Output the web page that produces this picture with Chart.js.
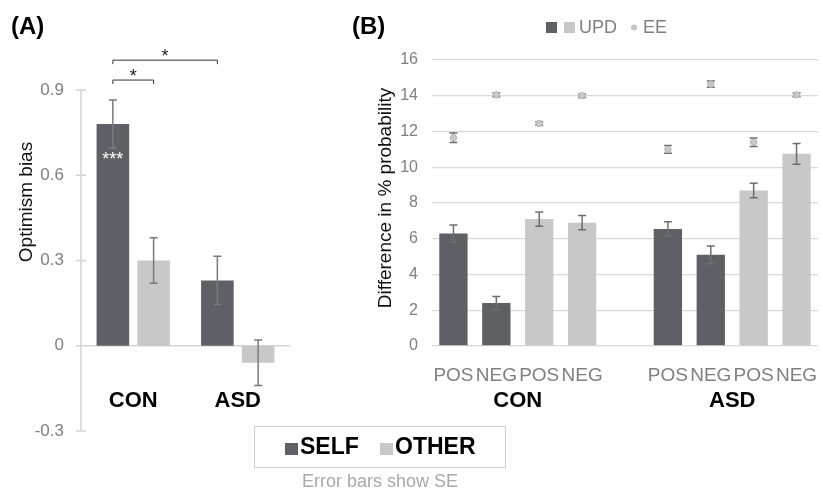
<!DOCTYPE html>
<html>
<head>
<meta charset="utf-8">
<script src="https://cdn.jsdelivr.net/npm/chart.js@4.4.1/dist/chart.umd.min.js"></script>
<style>
  body { margin: 0; background: #fff; }
  #wrap { position: relative; width: 823px; height: 492px; overflow: hidden; background: #fff; }
  canvas { position: absolute; top: 0; }
  #chartA { left: 0; }
  #chartB { left: 300px; }
</style>
</head>
<body>
<div id="wrap">
  <canvas id="chartA" width="520" height="492"></canvas>
  <canvas id="chartB" width="523" height="492"></canvas>
</div>
<script>
// ---- panel A data ----
var groupsA = ['CON', 'ASD'];
var selfBias = [0.78, 0.23];
var selfBiasSE = [0.085, 0.085];
var otherBias = [0.30, -0.06];
var otherBiasSE = [0.08, 0.08];

// ---- panel B data ----
var conditionsB = ['POS', 'NEG', 'POS', 'NEG', '', 'POS', 'NEG', 'POS', 'NEG'];
var targetB = ['SELF', 'SELF', 'OTHER', 'OTHER', null, 'SELF', 'SELF', 'OTHER', 'OTHER'];
var updValues = [6.3, 2.4, 7.1, 6.9, null, 6.55, 5.1, 8.7, 10.75];
var updSE = [0.47, 0.37, 0.4, 0.4, null, 0.4, 0.5, 0.4, 0.58];
var eeValues = [11.65, 14.05, 12.45, 14.0, null, 11.0, 14.65, 11.4, 14.05];
var eeSE = [0.27, 0.1, 0.1, 0.1, null, 0.22, 0.18, 0.24, 0.1];
var groupsB = ['CON', 'ASD'];

var DARK = '#5f6065';
var LIGHT = '#c8c8c8';
var FONT = "'Liberation Sans', Arial, sans-serif";

// error bars, drawn over bars or behind points
function drawErrors(chart, args) {
    var ds = chart.data.datasets[args.index];
    var y = chart.scales.y, ctx = chart.ctx;
    ctx.save();
    ctx.strokeStyle = ds.errorColor || '#777';
    ctx.lineWidth = 1.5;
    args.meta.data.forEach(function(el, i) {
        var v = ds.data[i], e = ds.errors[i];
        if (v == null || e == null) return;
        var x = el.x;
        var top = y.getPixelForValue(v + e), bot = y.getPixelForValue(v - e);
        ctx.beginPath();
        ctx.moveTo(x, top); ctx.lineTo(x, bot);
        ctx.moveTo(x - 4, top); ctx.lineTo(x + 4, top);
        ctx.moveTo(x - 4, bot); ctx.lineTo(x + 4, bot);
        ctx.stroke();
    });
    ctx.restore();
}

var errorBars = {
    id: 'errorBars',
    beforeDatasetDraw: function(chart, args) {
        var ds = chart.data.datasets[args.index];
        if (ds.errors && ds.errorsBehind) drawErrors(chart, args);
    },
    afterDatasetDraw: function(chart, args) {
        var ds = chart.data.datasets[args.index];
        if (ds.errors && !ds.errorsBehind) drawErrors(chart, args);
    }
};

function rotatedText(ctx, text, x, y, font, color) {
    ctx.save();
    ctx.translate(x, y);
    ctx.rotate(-Math.PI / 2);
    ctx.font = font;
    ctx.fillStyle = color;
    ctx.textAlign = 'center';
    ctx.textBaseline = 'middle';
    ctx.fillText(text, 0, 0);
    ctx.restore();
}

// ---- panel A extras: axis, brackets, labels, legend ----
var panelAExtras = {
    id: 'panelAExtras',
    beforeDatasetsDraw: function(chart) {
        var ctx = chart.ctx, y = chart.scales.y, area = chart.chartArea;
        ctx.save();
        ctx.strokeStyle = '#d4d4d4';
        ctx.lineWidth = 1.5;
        ctx.beginPath();
        ctx.moveTo(area.left, area.top);
        ctx.lineTo(area.left, area.bottom);
        y.ticks.forEach(function(t) {
            var py = y.getPixelForValue(t.value);
            ctx.moveTo(area.left - 5, py);
            ctx.lineTo(area.left + 5, py);
        });
        var zero = y.getPixelForValue(0);
        ctx.moveTo(area.left, zero);
        ctx.lineTo(area.right, zero);
        ctx.stroke();
        ctx.restore();
    },
    afterDraw: function(chart) {
        var ctx = chart.ctx, x = chart.scales.x, y = chart.scales.y;
        var selfBars = chart.getDatasetMeta(0).data;
        var otherBars = chart.getDatasetMeta(1).data;
        ctx.save();

        ctx.fillStyle = '#000';
        ctx.font = 'bold 24px ' + FONT;
        ctx.textAlign = 'left';
        ctx.textBaseline = 'middle';
        ctx.fillText('(A)', 11, 27);

        rotatedText(ctx, 'Optimism bias', 27, 202, '19px ' + FONT, '#111');

        // significance brackets
        function bracket(x1, x2, py) {
            ctx.beginPath();
            ctx.moveTo(x1, py + 4); ctx.lineTo(x1, py);
            ctx.lineTo(x2, py); ctx.lineTo(x2, py + 4);
            ctx.stroke();
            ctx.fillText('*', (x1 + x2) / 2, py - 3);
        }
        ctx.strokeStyle = '#333';
        ctx.lineWidth = 1;
        ctx.fillStyle = '#222';
        ctx.font = '18px ' + FONT;
        ctx.textAlign = 'center';
        ctx.textBaseline = 'middle';
        bracket(selfBars[0].x, otherBars[0].x, y.getPixelForValue(0.935));
        bracket(selfBars[0].x, selfBars[1].x, y.getPixelForValue(1.005));

        ctx.fillStyle = '#fff';
        ctx.font = '18px ' + FONT;
        ctx.fillText('***', selfBars[0].x, y.getPixelForValue(0.655));

        // group labels
        ctx.fillStyle = '#000';
        ctx.font = 'bold 22px ' + FONT;
        groupsA.forEach(function(g, i) {
            ctx.fillText(g, x.getPixelForValue(i), 401);
        });

        // legend box
        ctx.strokeStyle = '#d0d0d0';
        ctx.lineWidth = 1;
        ctx.strokeRect(254.5, 426.5, 251, 41);
        ctx.font = 'bold 23px ' + FONT;
        ctx.textAlign = 'left';
        ctx.fillStyle = DARK;
        ctx.fillRect(285, 443, 13, 12);
        ctx.fillStyle = '#000';
        ctx.fillText('SELF', 300, 448);
        ctx.fillStyle = LIGHT;
        ctx.fillRect(380, 443, 13, 12);
        ctx.fillStyle = '#000';
        ctx.fillText('OTHER', 395, 448);

        ctx.font = '18px ' + FONT;
        ctx.textAlign = 'center';
        ctx.fillStyle = '#a8a8a8';
        ctx.fillText('Error bars show SE', 380, 482);
        ctx.restore();
    }
};

new Chart(document.getElementById('chartA').getContext('2d'), {
    type: 'bar',
    data: {
        labels: groupsA,
        datasets: [{
            label: 'SELF',
            data: selfBias,
            errors: selfBiasSE,
            errorColor: '#7a7a7a',
            backgroundColor: DARK
        }, {
            label: 'OTHER',
            data: otherBias,
            errors: otherBiasSE,
            errorColor: '#7a7a7a',
            backgroundColor: LIGHT
        }]
    },
    options: {
        responsive: false,
        animation: false,
        layout: { padding: { top: 90, bottom: 61, left: 0, right: 230 } },
        datasets: { bar: { categoryPercentage: 0.78, barPercentage: 0.8 } },
        plugins: { legend: { display: false }, tooltip: { enabled: false } },
        scales: {
            x: { display: false },
            y: {
                min: -0.3,
                max: 0.9,
                ticks: {
                    stepSize: 0.3,
                    padding: 17,
                    color: '#808080',
                    font: { family: FONT, size: 17 },
                    callback: function(v) { return String(Math.round(v * 10) / 10); }
                },
                grid: { display: false, drawTicks: false },
                border: { display: false },
                afterFit: function(s) { s.width = 81; s.paddingTop = 0; s.paddingBottom = 0; }
            }
        }
    },
    plugins: [errorBars, panelAExtras]
});

// ---- panel B extras ----
var panelBExtras = {
    id: 'panelBExtras',
    afterDraw: function(chart) {
        var ctx = chart.ctx, x = chart.scales.x;
        ctx.save();
        ctx.fillStyle = '#000';
        ctx.font = 'bold 24px ' + FONT;
        ctx.textAlign = 'left';
        ctx.textBaseline = 'middle';
        ctx.fillText('(B)', 52, 27);

        rotatedText(ctx, 'Difference in % probability', 86, 198, '19px ' + FONT, '#111');

        // legend
        ctx.fillStyle = DARK;
        ctx.fillRect(246, 22, 11, 11);
        ctx.fillStyle = LIGHT;
        ctx.fillRect(264, 22, 11, 11);
        ctx.fillStyle = '#7f7f7f';
        ctx.font = '18px ' + FONT;
        ctx.fillText('UPD', 279, 28);
        ctx.fillStyle = '#c4c4c4';
        ctx.beginPath();
        ctx.arc(334, 27.5, 3, 0, Math.PI * 2);
        ctx.fill();
        ctx.fillStyle = '#7f7f7f';
        ctx.fillText('EE', 343, 28);

        // group labels
        ctx.fillStyle = '#000';
        ctx.font = 'bold 22px ' + FONT;
        ctx.textAlign = 'center';
        groupsB.forEach(function(g, i) {
            var first = i * 5, last = i * 5 + 3;
            ctx.fillText(g, (x.getPixelForValue(first) + x.getPixelForValue(last)) / 2, 401);
        });
        ctx.restore();
    }
};

new Chart(document.getElementById('chartB').getContext('2d'), {
    data: {
        labels: conditionsB,
        datasets: [{
            type: 'line',
            label: 'EE',
            data: eeValues,
            errors: eeSE,
            errorsBehind: true,
            errorColor: '#6e6e6e',
            showLine: false,
            pointRadius: 3.2,
            pointBackgroundColor: '#c8c8c8',
            pointBorderColor: '#b5b5b5',
            pointBorderWidth: 1,
            order: 0
        }, {
            type: 'bar',
            label: 'UPD',
            data: updValues,
            errors: updSE,
            errorColor: '#6e6e6e',
            backgroundColor: targetB.map(function(t) { return t === 'SELF' ? DARK : LIGHT; }),
            barPercentage: 0.66,
            categoryPercentage: 1,
            order: 1
        }]
    },
    options: {
        responsive: false,
        animation: false,
        layout: { padding: { top: 60, bottom: 0, left: 0, right: 0 } },
        plugins: { legend: { display: false }, tooltip: { enabled: false } },
        scales: {
            x: {
                grid: { display: false },
                border: { display: false },
                ticks: {
                    padding: 10,
                    autoSkip: false,
                    maxRotation: 0,
                    minRotation: 0,
                    color: '#7f7f7f',
                    font: { family: "'Liberation Sans Narrow', 'Arial Narrow', " + FONT, size: 19 }
                },
                afterFit: function(s) { s.height = 146; s.paddingLeft = 0; s.paddingRight = 0; }
            },
            y: {
                min: 0,
                max: 16,
                ticks: {
                    stepSize: 2,
                    padding: 14,
                    color: '#808080',
                    font: { family: FONT, size: 16 }
                },
                grid: { color: '#d9d9d9', lineWidth: 1.3, drawTicks: false },
                border: { display: false },
                afterFit: function(s) { s.width = 132; s.paddingTop = 0; s.paddingBottom = 0; }
            }
        }
    },
    plugins: [errorBars, panelBExtras]
});
</script>
</body>
</html>
